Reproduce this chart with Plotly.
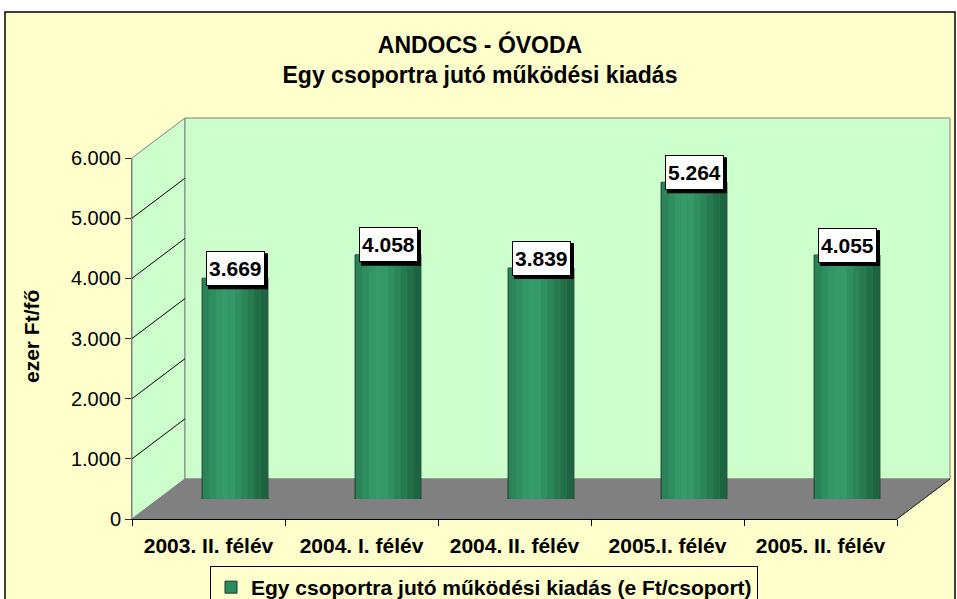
import plotly.graph_objects as go

# ---------------- data ----------------
categories = ["2003. II. félév", "2004. I. félév", "2004. II. félév",
              "2005.I. félév", "2005. II. félév"]
values = [3669, 4058, 3839, 5264, 4055]
value_labels = ["3.669", "4.058", "3.839", "5.264", "4.055"]
y_tickvals = [0, 1000, 2000, 3000, 4000, 5000, 6000]
y_ticktext = ["0", "1.000", "2.000", "3.000", "4.000", "5.000", "6.000"]
grid_vals = [1000, 2000, 3000, 4000, 5000]
series_name = "Egy csoportra jutó működési kiadás (e Ft/csoport)"
title_lines = ["ANDOCS - ÓVODA", "Egy csoportra jutó működési kiadás"]
y_title = "ezer Ft/fő"

# ---------------- geometry (pixels) ----------------
W, H = 957, 599
YMAX = 6000
FX0, FX1, FY0, FYT = 132, 897, 519, 158      # front plane
DX, DY = 53, 40                              # depth offset
BX0, BX1, BY0, BYT = FX0 + DX, FX1 + DX, FY0 - DY, FYT - DY   # back wall
MX0, MX1, MY0, MYT = FX0 + DX / 2, FX1 + DX / 2, FY0 - DY / 2, FYT - DY / 2  # mid depth
BAR_W = 0.43

FONT = "Liberation Sans, Arial, sans-serif"


def px(x):
    return x / W


def py(y):
    return 1 - y / H


def path(points):
    return "M " + " L ".join(f"{px(x):.5f},{py(y):.5f}" for x, y in points) + " Z"


def yf(v):
    return FY0 - (FY0 - FYT) * v / YMAX


def yb(v):
    return BY0 - (BY0 - BYT) * v / YMAX


fig = go.Figure()

# invisible trace to populate the front category axis
fig.add_trace(go.Scatter(x=categories, y=values, mode="markers",
                         marker=dict(opacity=0), xaxis="x3", yaxis="y3",
                         hoverinfo="skip", showlegend=False))

# main cylinder body (legend entry)
fig.add_trace(go.Bar(x=categories, y=values, width=BAR_W, name=series_name,
                     marker=dict(color="#2E8B5E", line=dict(color="#17382a", width=1)),
                     xaxis="x2", yaxis="y2", showlegend=True))

# shading strips
strip_colors = ["#2a8458", "#2e8e5f", "#329666", "#369b6b", "#349868",
                "#308f60", "#2b8558", "#277a50", "#226f47", "#1d6440"]
n = len(strip_colors)
sw = (BAR_W - 0.012) / n
for k, c in enumerate(strip_colors):
    fig.add_trace(go.Bar(x=categories, y=values, width=sw,
                         offset=-BAR_W / 2 + 0.006 + k * sw,
                         marker=dict(color=c, line=dict(width=0)),
                         xaxis="x2", yaxis="y2", showlegend=False,
                         hoverinfo="skip"))

shapes = []
# outer chart border
shapes.append(dict(type="rect", xref="paper", yref="paper",
                   x0=px(5), x1=px(955), y0=py(12), y1=py(615),
                   fillcolor="#FFFFCC", line=dict(color="black", width=1.5),
                   layer="below"))
# left wall
shapes.append(dict(type="path", xref="paper", yref="paper",
                   path=path([(FX0, FY0), (FX0, FYT), (BX0, BYT), (BX0, BY0)]),
                   fillcolor="#CCFFCC", line=dict(color="#808080", width=1),
                   layer="below"))
# back wall
shapes.append(dict(type="rect", xref="paper", yref="paper",
                   x0=px(BX0), x1=px(BX1), y0=py(BY0), y1=py(BYT),
                   fillcolor="#CCFFCC", line=dict(color="#808080", width=1),
                   layer="below"))
# floor
shapes.append(dict(type="path", xref="paper", yref="paper",
                   path=path([(FX0, FY0), (FX1, FY0), (BX1, BY0), (BX0, BY0)]),
                   fillcolor="#808080", line=dict(color="#808080", width=1),
                   layer="below"))
shapes.append(dict(type="line", xref="paper", yref="paper",
                   x0=px(FX1), y0=py(FY0), x1=px(BX1), y1=py(BY0),
                   line=dict(color="#202020", width=1), layer="below"))
# left wall gridlines
for v in grid_vals:
    shapes.append(dict(type="line", xref="paper", yref="paper",
                       x0=px(FX0), y0=py(yf(v)), x1=px(BX0), y1=py(yb(v)),
                       line=dict(color="black", width=1), layer="below"))
# cylinder bottoms
for i in range(len(categories)):
    shapes.append(dict(type="circle", xref="x2", yref="y2",
                       x0=i - BAR_W / 2, x1=i + BAR_W / 2, y0=-150, y1=150,
                       fillcolor="#2a8458", line=dict(color="#17382a", width=1),
                       layer="below"))
# label shadows (pixel-sized boxes anchored at the bar tops)
for i, v in enumerate(values):
    shapes.append(dict(type="rect", xref="x2", yref="y2",
                       xsizemode="pixel", ysizemode="pixel",
                       xanchor=i, yanchor=v,
                       x0=-27, x1=33, y0=-11, y1=25,
                       fillcolor="black", line=dict(width=0), layer="above"))

annotations = []
for c, v, t in zip(categories, values, value_labels):
    annotations.append(dict(xref="x2", yref="y2", x=c, y=v, text=t,
                            showarrow=False, yshift=10, height=29,
                            font=dict(family=FONT, size=21, color="black", weight="bold"),
                            bgcolor="white", bordercolor="black", borderwidth=1,
                            borderpad=2))
annotations.append(dict(xref="paper", yref="paper", x=px(31), y=py(337),
                        xanchor="center", yanchor="middle",
                        text=y_title, textangle=-90, showarrow=False,
                        font=dict(family=FONT, size=21, color="black", weight="bold")))

fig.update_layout(
    width=W, height=H,
    margin=dict(l=0, r=0, t=0, b=0, autoexpand=False),
    paper_bgcolor="white",
    plot_bgcolor="rgba(0,0,0,0)",
    barmode="overlay",
    font=dict(family=FONT, color="black"),
    title=dict(text="<br>".join(title_lines), x=px(480), xanchor="center",
               xref="container", yref="container",
               y=py(53), yanchor="top",
               font=dict(family=FONT, size=23, color="black", weight="bold")),
    # back wall subplot (drawn first)
    xaxis=dict(domain=[px(BX0), px(BX1)], range=[-0.5, 4.5], visible=False,
               anchor="y"),
    yaxis=dict(domain=[py(BY0), py(BYT)], range=[0, YMAX], anchor="x",
               showgrid=True, gridcolor="black", gridwidth=1,
               tickmode="array", tickvals=grid_vals, showticklabels=False,
               ticks="", zeroline=False, showline=False),
    # bars at mid depth
    xaxis2=dict(domain=[px(MX0), px(MX1)], type="category",
                categoryorder="array", categoryarray=categories,
                range=[-0.5, 4.5], visible=False, anchor="y2"),
    yaxis2=dict(domain=[py(MY0), py(MYT)], range=[0, YMAX], visible=False,
                anchor="x2"),
    # front axes
    xaxis3=dict(domain=[px(FX0), px(FX1)], type="category",
                categoryorder="array", categoryarray=categories,
                range=[-0.5, 4.5], anchor="y3", tickson="boundaries",
                ticks="outside", ticklen=6, tickcolor="black",
                ticklabelstandoff=8,
                showline=True, linecolor="black", linewidth=1,
                showgrid=False, zeroline=False,
                tickfont=dict(family=FONT, size=21, color="black", weight="bold")),
    yaxis3=dict(domain=[py(FY0), py(FYT)], range=[0, YMAX], anchor="x3",
                tickmode="array", tickvals=y_tickvals, ticktext=y_ticktext,
                ticks="outside", ticklen=6, tickcolor="#303030",
                showline=True, linecolor="#808080", linewidth=1,
                showgrid=False, zeroline=False,
                tickfont=dict(family=FONT, size=20, color="black")),
    showlegend=True,
    legend=dict(orientation="h", xref="container", yref="container",
                x=px(484), xanchor="center",
                y=py(566), yanchor="top", bgcolor="#FFFFCC", maxheight=80,
                bordercolor="black", borderwidth=1, itemwidth=30,
                font=dict(family=FONT, size=21, color="black", weight="bold")),
    shapes=shapes,
    annotations=annotations,
)

fig.write_html("out.html", config={"displayModeBar": False},
               post_script="document.body.style.margin='0px';")
